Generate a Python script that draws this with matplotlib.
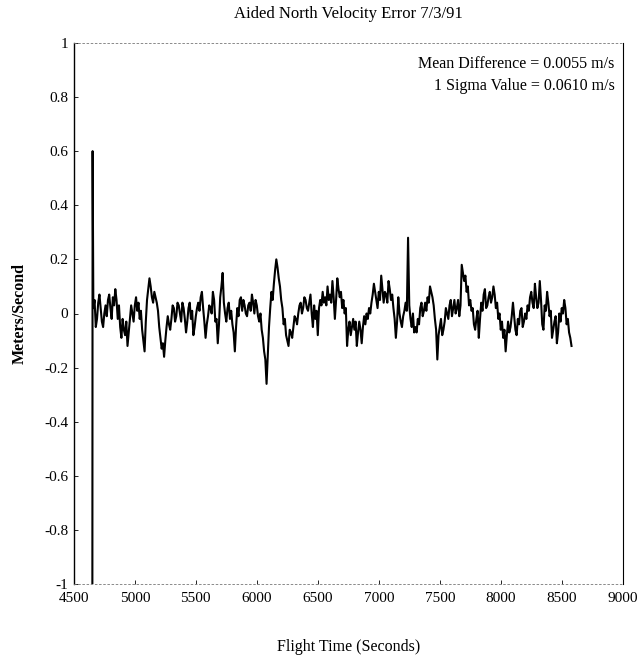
import numpy as np
import matplotlib
matplotlib.use("Agg")
import matplotlib.pyplot as plt

# ---- data ----
spike_t = [4652, 4654]
spike_v = [-1.0, 0.60]

t_start = 4660
t_step = 20
# samples at t_start + k*t_step
vel_err = [
    0.02, -0.05, 0.04, 0.02, -0.05, 0.03, 0.05, 0.02, 0.06, 0.09,   # 4660-4840
    -0.02, -0.05, -0.02, -0.08, -0.12, -0.02, 0.00, 0.03, 0.01, -0.02,  # 4860-5040
    -0.06, -0.14, 0.05, 0.13, 0.06, 0.08, 0.04, -0.05, -0.13, -0.16,  # 5060-5240
    -0.05, -0.04, -0.02, 0.02, -0.01, 0.03, -0.03, 0.02, -0.07, 0.02,  # 5260-5440
    -0.02, -0.08, -0.01, 0.04, 0.06, 0.02, -0.09, -0.01, 0.02, 0.08,  # 5460-5640
    -0.03, -0.11, 0.06, 0.15, 0.00, 0.02, -0.02, -0.04, -0.14, 0.02,  # 5660-5840
    0.05, 0.01, 0.03, -0.01, 0.04, 0.07, 0.00, 0.03, -0.03, -0.06,   # 5860-6040
    -0.14, -0.26, -0.05, 0.08, 0.11, 0.20, 0.13, 0.05, -0.04, -0.08,  # 6060-6240
    -0.12, -0.07, -0.05, -0.02, 0.00, 0.04, 0.02, 0.05, 0.01, 0.07,  # 6260-6440
    -0.05, -0.02, -0.08, 0.05, 0.08, 0.06, 0.10, 0.07, 0.12, -0.02,  # 6460-6640
    0.13, 0.06, 0.02, 0.00, -0.12, -0.03, -0.05, -0.06, -0.12, -0.03,  # 6660-6840
    -0.11, -0.01, 0.00, 0.02, 0.04, 0.11, 0.05, 0.08, 0.14, 0.04,   # 6860-7040
    0.07, 0.12, 0.05, 0.02, -0.09, 0.06, -0.03, -0.01, 0.04, 0.28,   # 7060-7240
    -0.02, 0.00, -0.05, -0.02, 0.02, -0.01, 0.04, 0.06, 0.10, 0.06,  # 7260-7440
    -0.02, -0.17, -0.05, -0.08, -0.03, 0.00, 0.03, -0.01, 0.05, 0.02,  # 7460-7640
    -0.01, 0.18, 0.12, 0.08, 0.03, 0.01, -0.04, -0.02, -0.09, 0.04,  # 7660-7840
    0.07, 0.02, 0.06, 0.04, 0.10, 0.02, -0.02, -0.06, -0.09, -0.14,  # 7860-8040
    -0.03, -0.05, 0.04, -0.06, -0.02, 0.01, -0.05, 0.00, 0.03, 0.06,  # 8060-8240
    0.04, 0.11, 0.02, 0.12, -0.04, 0.03, 0.08, -0.01, -0.09, -0.03,  # 8260-8440
    -0.11, 0.00, 0.02, 0.05, -0.04, -0.07, -0.12,                    # 8460-8580
]
# samples half-way between the ones above (t_start + t_step/2 + k*t_step)
vel_err_mid = [
    0.05, -0.02, 0.07, -0.03, 0.00, -0.01, 0.07, -0.02, 0.03, 0.05,    # 4670-4850
    0.03, -0.09, -0.06, -0.03, -0.07, 0.03, -0.03, 0.06, 0.04, 0.01,   # 4870-5050
    -0.10, -0.03, 0.09, 0.10, 0.04, 0.06, 0.01, -0.09, -0.11, -0.10,   # 5070-5250
    -0.01, -0.06, 0.03, -0.03, 0.04, 0.00, 0.04, -0.02, -0.03, 0.04,   # 5270-5450
    0.01, -0.05, 0.02, 0.01, 0.08, -0.03, -0.04, 0.03, 0.00, 0.05,     # 5470-5650
    -0.02, -0.04, 0.10, 0.04, -0.03, 0.04, 0.01, -0.07, -0.05, -0.01,  # 5670-5850
    0.06, 0.05, 0.00, 0.03, 0.01, 0.04, 0.05, -0.01, 0.00, -0.09,      # 5870-6050
    -0.17, -0.15, 0.02, 0.05, 0.16, 0.17, 0.10, 0.02, -0.02, -0.10,    # 6070-6250
    -0.06, -0.09, -0.01, -0.04, 0.03, 0.00, 0.06, 0.02, 0.04, 0.00,    # 6270-6450
    0.03, 0.01, 0.02, 0.03, 0.04, 0.03, 0.05, 0.04, 0.06, 0.05,        # 6470-6650
    0.09, 0.08, 0.05, 0.02, -0.06, -0.08, -0.02, -0.03, -0.07, -0.06,  # 6670-6850
    -0.05, -0.04, -0.02, 0.00, 0.07, 0.08, 0.02, 0.05, 0.09, 0.08,     # 6870-7050
    0.04, 0.09, 0.07, -0.02, -0.03, 0.00, -0.05, 0.01, 0.01, 0.03,     # 7070-7250
    -0.05, -0.07, -0.07, -0.04, 0.04, 0.01, 0.01, 0.04, 0.08, 0.03,    # 7270-7450
    -0.06, -0.08, -0.02, -0.06, 0.02, -0.02, 0.05, 0.02, 0.00, 0.05,   # 7470-7650
    0.03, 0.15, 0.14, 0.10, 0.05, 0.02, -0.06, 0.01, -0.02, 0.01,      # 7670-7850
    0.09, 0.03, 0.08, 0.06, 0.07, 0.04, 0.00, -0.03, -0.06, -0.08,     # 7870-8050
    -0.07, -0.01, -0.01, -0.08, -0.04, 0.02, -0.03, -0.02, 0.01, 0.08, # 8070-8250
    0.02, 0.06, 0.04, 0.05, -0.06, 0.01, 0.04, 0.01, -0.06, -0.01,     # 8270-8450
    -0.07, -0.03, 0.00, 0.02, -0.02, -0.09,                            # 8470-8570
]

x_ticks = [4500, 5000, 5500, 6000, 6500, 7000, 7500, 8000, 8500, 9000]
y_ticks = [1, 0.8, 0.6, 0.4, 0.2, 0, -0.2, -0.4, -0.6, -0.8, -1]
y_tick_labels = ["1", "0.8", "0.6", "0.4", "0.2", "0", "-0.2", "-0.4", "-0.6", "-0.8", "-1"]

title = "Aided North Velocity Error 7/3/91"
x_label = "Flight Time (Seconds)"
y_label = "Meters/Second"
notes = ["Mean Difference = 0.0055 m/s", "1 Sigma Value = 0.0610 m/s"]

# ---- figure ----
plt.rcParams['font.family'] = ['Liberation Serif', 'DejaVu Serif']
fig = plt.figure(figsize=(6.42, 6.60), dpi=100)
ax = fig.add_axes([0.115, 0.115, 0.855, 0.82])

# interleave the two sample sets in time order
t_series = []
v_series = []
for k, v in enumerate(vel_err):
    t_series.append(t_start + k * t_step)
    v_series.append(v)
    if k < len(vel_err_mid):
        t_series.append(t_start + k * t_step + t_step / 2)
        v_series.append(vel_err_mid[k])

t_all = np.concatenate([spike_t, t_series])
v_all = np.concatenate([spike_v, v_series])
ax.plot(t_all, v_all, color="black", linewidth=1.5)

ax.set_xlim(4500, 9000)
ax.set_ylim(-1, 1)
ax.set_xticks(x_ticks)
ax.set_xticklabels([str(v) for v in x_ticks])
ax.set_yticks(y_ticks)
ax.set_yticklabels(y_tick_labels)
ax.tick_params(direction="in", length=3, width=0.6, labelsize=11)
ax.tick_params(axis="x", pad=6)
ax.tick_params(axis="y", pad=4)

for side in ["top", "bottom"]:
    ax.spines[side].set_linestyle((0, (2, 3)))
    ax.spines[side].set_linewidth(0.6)
    ax.spines[side].set_color("#777777")
ax.spines["left"].set_linewidth(1.0)
ax.spines["right"].set_linewidth(0.8)

ax.set_title(title, fontsize=12, pad=18)
ax.set_xlabel(x_label, fontsize=11.5, labelpad=24)
ax.set_ylabel(y_label, fontsize=11.5, fontweight="bold", labelpad=12)

ax.text(0.985, 0.975, notes[0], transform=ax.transAxes, ha="right", va="top", fontsize=11.5)
ax.text(0.985, 0.935, notes[1], transform=ax.transAxes, ha="right", va="top", fontsize=11.5)

fig.savefig("out.png", dpi=100)
